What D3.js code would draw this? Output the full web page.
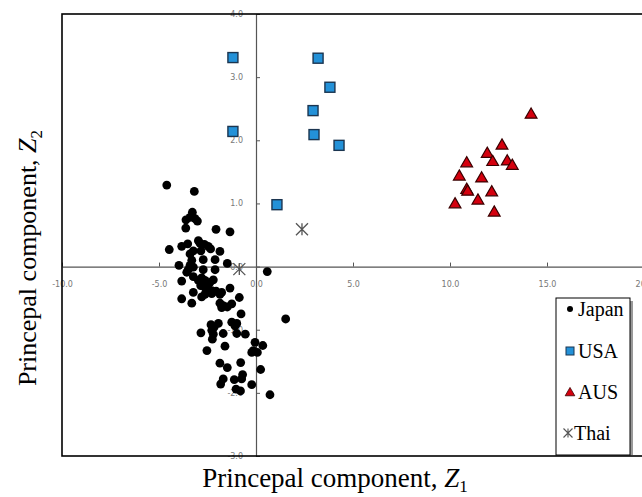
<!DOCTYPE html>
<html>
<head>
<meta charset="utf-8">
<script src="https://cdn.jsdelivr.net/npm/d3@7"></script>
<style>
  body { margin: 0; background: #fff; }
</style>
</head>
<body>
<svg id="chart" width="642" height="497"></svg>
<script>
// principal component scores [Z1, Z2]
const japan = [
  [-4.60, 1.29], [-3.18, 1.19], [-3.28, 0.86], [-3.40, 0.78], [-3.61, 0.74], [-3.14, 0.76],
  [-3.02, 0.72], [-3.62, 0.61], [-2.06, 0.59], [-1.34, 0.55], [-2.97, 0.41], [-2.89, 0.37],
  [-2.66, 0.35], [-2.46, 0.32], [-2.34, 0.28], [-3.52, 0.36], [-3.83, 0.32], [-4.47, 0.27],
  [-3.23, 0.25], [-3.40, 0.20], [-2.84, 0.25], [-1.86, 0.24], [-2.72, 0.11], [-2.11, 0.11],
  [-1.48, 0.05], [-3.97, 0.02], [-3.31, 0.10], [-3.40, 0.02], [-3.23, -0.01], [-3.49, -0.05],
  [-2.72, -0.05], [-2.11, -0.05], [-3.57, -0.09], [-3.83, -0.23], [-3.23, -0.16], [-2.97, -0.22],
  [-2.80, -0.18], [-2.63, -0.22], [-2.37, -0.25], [-2.20, -0.21], [-2.85, -0.30], [-2.63, -0.33],
  [-2.46, -0.35], [-2.28, -0.38], [-2.06, -0.39], [-1.77, -0.41], [-1.34, -0.34], [-3.23, -0.41],
  [-2.80, -0.48], [-2.63, -0.44], [-2.28, -0.43], [-1.86, -0.44], [-3.83, -0.51], [-3.31, -0.58],
  [-0.86, -0.49], [-1.86, -0.58], [-1.69, -0.62], [-1.48, -0.64], [-1.25, -0.59], [-1.77, -0.65],
  [-0.77, -0.75], [-2.32, -0.92], [-2.16, -0.96], [-1.94, -0.90], [-1.25, -0.88], [-1.08, -0.94],
  [-0.99, -0.90], [-2.84, -1.05], [-2.28, -1.01], [-2.20, -1.07], [-1.69, -1.06], [-0.99, -1.06],
  [-2.25, -1.15], [-0.55, -1.07], [-1.60, -1.26], [-2.53, -1.33], [-0.05, -1.20], [0.35, -1.25],
  [-0.14, -1.33], [0.07, -1.36], [-0.22, -1.36], [-1.86, -1.53], [-1.48, -1.60], [-0.79, -1.52],
  [0.24, -1.63], [-0.69, -1.71], [-0.74, -1.78], [-1.69, -1.78], [-1.82, -1.86], [-1.12, -1.79],
  [-1.03, -1.94], [-0.22, -1.87], [0.72, -2.03], [-0.80, -1.97], [1.53, -0.83], [0.58, -0.08]
];
const usa = [
  [-1.19, 3.31], [-1.19, 2.14], [3.20, 3.30], [3.81, 2.84],
  [2.94, 2.47], [2.99, 2.09], [4.28, 1.92], [1.08, 0.98]
];
const aus = [
  [14.18, 2.42], [12.68, 1.93], [11.92, 1.80], [12.20, 1.67], [12.95, 1.68], [13.21, 1.61],
  [10.86, 1.65], [10.48, 1.44], [11.63, 1.41], [10.86, 1.23], [10.91, 1.20], [12.15, 1.19],
  [11.44, 1.06], [10.26, 1.00], [12.28, 0.87]
];
const thai = [[2.37, 0.59], [-0.86, -0.04]];

const xTicks = [-10, -5, 0, 5, 10, 15, 20];
const xTickLabels = ['-10.0', '-5.0', '0.0', '5.0', '10.0', '15.0', '20.0'];
const yTicks = [-3, -2, -1, 0, 1, 2, 3, 4];
const yTickLabels = ['-3.0', '-2.0', '-1.0', '0.0', '1.0', '2.0', '3.0', '4.0'];
const legendLabels = ['Japan', 'USA', 'AUS', 'Thai'];

const svg = d3.select('#chart');

const x = d3.scaleLinear().domain([-10, 20]).range([62, 644]);
const y = d3.scaleLinear().domain([-3, 4]).range([456, 14]);

// asterisk marker: a cross with a vertical bar
const asterisk = {
  draw(ctx, size) {
    const s = Math.sqrt(size) / 2;
    ctx.moveTo(-s, -s); ctx.lineTo(s, s);
    ctx.moveTo(-s, s); ctx.lineTo(s, -s);
    ctx.moveTo(0, -s); ctx.lineTo(0, s);
  }
};

// axes through the origin
const xAxis = d3.axisBottom(x)
  .tickValues(xTicks)
  .tickFormat((d, i) => xTickLabels[i])
  .tickSizeInner(-4).tickSizeOuter(0).tickPadding(15);
const yAxis = d3.axisLeft(y)
  .tickValues(yTicks)
  .tickFormat((d, i) => yTickLabels[i])
  .tickSizeInner(-4).tickSizeOuter(0).tickPadding(13);

const gx = svg.append('g').attr('transform', `translate(0,${y(0)})`).call(xAxis);
const gy = svg.append('g').attr('transform', `translate(${x(0)},0)`).call(yAxis);

[gx, gy].forEach(g => {
  g.select('.domain').attr('stroke', '#555').attr('stroke-width', 1.2);
  g.selectAll('.tick line').attr('stroke', '#555');
  g.selectAll('.tick text')
    .attr('fill', '#777')
    .style('font-family', 'DejaVu Sans')
    .style('font-size', '8px');
});
gy.selectAll('.tick text').attr('dy', '0.32em');

// plot frame
svg.append('rect')
  .attr('x', x(-10)).attr('y', y(4))
  .attr('width', x(20) - x(-10)).attr('height', y(-3) - y(4))
  .attr('fill', 'none').attr('stroke', '#000').attr('stroke-width', 1.6);

// Japan
svg.append('g').selectAll('circle')
  .data(japan).join('circle')
  .attr('cx', d => x(d[0])).attr('cy', d => y(d[1]))
  .attr('r', 4.4).attr('fill', '#000');

// USA
svg.append('g').selectAll('rect')
  .data(usa).join('rect')
  .attr('x', d => x(d[0]) - 5).attr('y', d => y(d[1]) - 5)
  .attr('width', 10).attr('height', 10)
  .attr('fill', '#2391d8').attr('stroke', '#1b3550').attr('stroke-width', 1.4);

// AUS
const tri = d3.symbol(d3.symbolTriangle, 60);
svg.append('g').selectAll('path')
  .data(aus).join('path')
  .attr('transform', d => `translate(${x(d[0])},${y(d[1]) + 1})`)
  .attr('d', tri)
  .attr('fill', '#d4000e').attr('stroke', '#3a0000').attr('stroke-width', 1.2);

// Thai
const star = d3.symbol(asterisk, 144);
svg.append('g').selectAll('path')
  .data(thai).join('path')
  .attr('transform', d => `translate(${x(d[0])},${y(d[1])})`)
  .attr('d', star)
  .attr('fill', 'none').attr('stroke', '#555').attr('stroke-width', 1.3);

// legend
const lg = svg.append('g');
lg.append('rect').attr('x', 559).attr('y', 301).attr('width', 74).attr('height', 154).attr('fill', '#999');
lg.append('rect').attr('x', 556).attr('y', 298).attr('width', 74).attr('height', 157)
  .attr('fill', '#fff').attr('stroke', '#000').attr('stroke-width', 1);

const legendY = [309, 351, 392, 433];
legendLabels.forEach((name, i) => {
  const cy = legendY[i];
  if (i === 0) {
    lg.append('circle').attr('cx', 570).attr('cy', cy).attr('r', 3).attr('fill', '#000');
  } else if (i === 1) {
    lg.append('rect').attr('x', 566).attr('y', cy - 4).attr('width', 8).attr('height', 8)
      .attr('fill', '#2391d8').attr('stroke', '#1b3550').attr('stroke-width', 1);
  } else if (i === 2) {
    lg.append('path').attr('transform', `translate(570,${cy + 1})`)
      .attr('d', d3.symbol(d3.symbolTriangle, 40))
      .attr('fill', '#d4000e').attr('stroke', '#3a0000').attr('stroke-width', 0.8);
  } else {
    lg.append('path').attr('transform', `translate(568,${cy})`)
      .attr('d', d3.symbol(asterisk, 81))
      .attr('fill', 'none').attr('stroke', '#555').attr('stroke-width', 1.1);
  }
  lg.append('text').attr('x', i === 3 ? 574 : 578).attr('y', cy).attr('dy', '0.35em')
    .style('font-family', 'Liberation Serif').style('font-size', '20px')
    .text(name);
});

// axis titles
const xt = svg.append('text')
  .attr('x', 335).attr('y', 487).attr('text-anchor', 'middle')
  .style('font-family', 'Liberation Serif').style('font-size', '27px');
xt.append('tspan').text('Princepal component, ');
xt.append('tspan').style('font-style', 'italic').text('Z');
xt.append('tspan').attr('dy', 5).style('font-size', '17px').text('1');

const yt = svg.append('text')
  .attr('transform', 'translate(36,258) rotate(-90)').attr('text-anchor', 'middle')
  .style('font-family', 'Liberation Serif').style('font-size', '26px');
yt.append('tspan').text('Princepal component, ');
yt.append('tspan').style('font-style', 'italic').text('Z');
yt.append('tspan').attr('dy', 6).style('font-size', '17px').text('2');
</script>
</body>
</html>
